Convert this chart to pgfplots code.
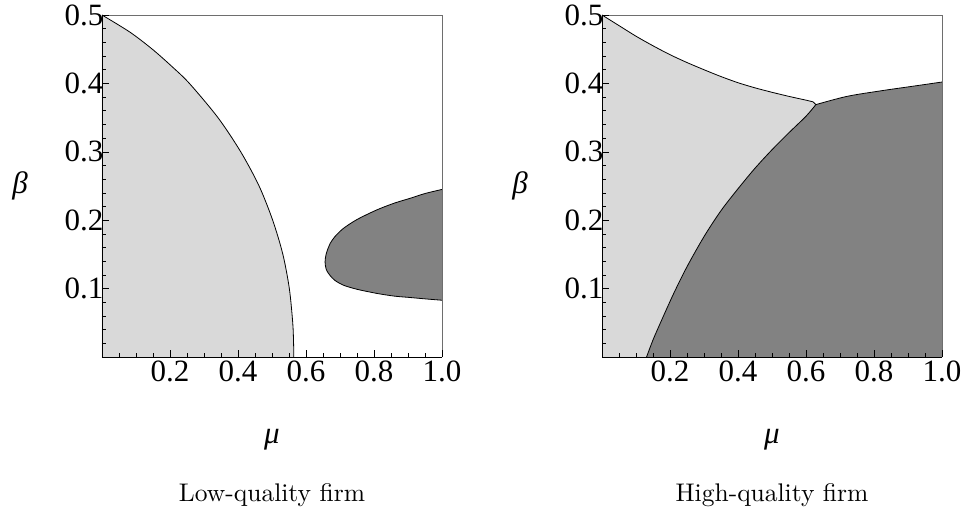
\documentclass[border=0pt]{standalone}
\usepackage{fontspec}
\usepackage{pgfplots}
\pgfplotsset{compat=1.18}
\newfontfamily\timesf{Liberation Serif}
\newfontfamily\cmten{lmroman10-regular.otf}
\definecolor{lightreg}{RGB}{217,217,217}
\definecolor{darkreg}{RGB}{130,130,130}
\definecolor{framegray}{RGB}{110,110,110}

\pgfplotsset{panel/.style={
  width=340pt, height=342pt, scale only axis,
  xmin=0, xmax=1, ymin=0, ymax=0.5,
  axis x line*=bottom, axis y line*=left,
  axis line style={black, line width=0.7pt},
  axis on top,
  xtick={0.2,0.4,0.6,0.8,1.0}, xticklabels={0.2,0.4,0.6,0.8,1.0},
  ytick={0.1,0.2,0.3,0.4,0.5}, yticklabels={0.1,0.2,0.3,0.4,0.5},
  minor xtick={0.05,0.1,0.15,0.25,0.3,0.35,0.45,0.5,0.55,0.65,0.7,0.75,0.85,0.9,0.95},
  minor ytick={0.02,0.04,0.06,0.08,0.12,0.14,0.16,0.18,0.22,0.24,0.26,0.28,0.32,0.34,0.36,0.38,0.42,0.44,0.46,0.48},
  tick align=inside,
  major tick length=7pt, minor tick length=4pt,
  tick style={black, line width=0.6pt},
  ticklabel style={font=\timesf\fontsize{31}{31}\selectfont},
  yticklabel style={xshift=5pt},
  clip=false,
}}

\pgfplotstableread{
x y
0 0.5
0.082 0.475
0.148 0.45
0.205 0.425
0.257 0.40
0.341 0.35
0.408 0.30
0.462 0.25
0.502 0.20
0.532 0.15
0.551 0.10
0.561 0.05
0.5635 0.02
0.564 0
}\lowlight

\begin{document}
\begin{tikzpicture}
% ---------------- Left panel ----------------
\begin{axis}[panel, name=L]
\addplot[fill=lightreg, draw=none, smooth, tension=0.5] table {\lowlight} \closedcycle;
\addplot[black, line width=0.8pt, smooth, tension=0.5] table {\lowlight};
\addplot[fill=darkreg, draw=none, smooth, tension=0.5] coordinates {
 (1,0.245) (0.95,0.239) (0.906,0.232) (0.86,0.225) (0.808,0.215) (0.75,0.201)
 (0.71,0.188) (0.685,0.176) (0.671,0.166) (0.665,0.159) (0.659,0.150) (0.656,0.139)
 (0.659,0.129) (0.665,0.123) (0.671,0.119) (0.685,0.112) (0.71,0.105) (0.75,0.099)
 (0.808,0.093) (0.86,0.089) (0.906,0.087) (0.95,0.085) (1,0.083)} -- cycle;
\addplot[black, line width=0.8pt, smooth, tension=0.5] coordinates {
 (1,0.245) (0.95,0.239) (0.906,0.232) (0.86,0.225) (0.808,0.215) (0.75,0.201)
 (0.71,0.188) (0.685,0.176) (0.671,0.166) (0.665,0.159) (0.659,0.150) (0.656,0.139)
 (0.659,0.129) (0.665,0.123) (0.671,0.119) (0.685,0.112) (0.71,0.105) (0.75,0.099)
 (0.808,0.093) (0.86,0.089) (0.906,0.087) (0.95,0.085) (1,0.083)};
\draw[framegray, line width=0.7pt] (rel axis cs:0,1) -- (rel axis cs:1,1) -- (rel axis cs:1,0);
\node[font=\timesf\itshape\fontsize{31}{31}\selectfont, xshift=-82pt] at (rel axis cs:0,0.5) {β};
\node[font=\timesf\itshape\fontsize{31}{31}\selectfont, anchor=base, yshift=-86pt] at (rel axis cs:0.5,0) {μ};
\node[font=\cmten\fontsize{25.5}{28}\selectfont, anchor=base, yshift=-144pt] at (rel axis cs:0.5,0) {Low-quality firm};
\end{axis}
% ---------------- Right panel ----------------
\begin{axis}[panel, at={(500pt,0pt)}]
\addplot[fill=lightreg, draw=none] coordinates {
 (0,0) (0,0.5) (0.05,0.4845) (0.1,0.469) (0.15,0.455) (0.2,0.442) (0.25,0.4305) (0.3,0.420)
 (0.35,0.410) (0.4,0.401) (0.45,0.3935) (0.5,0.387) (0.55,0.381) (0.6,0.3755) (0.621,0.373)
 (0.629,0.369) (0.60,0.352) (0.55,0.328) (0.50,0.303) (0.45,0.276) (0.40,0.246)
 (0.35,0.214) (0.30,0.176) (0.25,0.132) (0.21,0.092) (0.171,0.049) (0.15,0.025) (0.131,0)} -- cycle;
\addplot[fill=darkreg, draw=none] coordinates {
 (0.131,0) (0.15,0.025) (0.171,0.049) (0.21,0.092) (0.25,0.132) (0.30,0.176)
 (0.35,0.214) (0.40,0.246) (0.45,0.276) (0.50,0.303) (0.55,0.328) (0.60,0.352)
 (0.629,0.369) (0.72,0.381) (0.818,0.389) (0.916,0.396) (1,0.402) (1,0)} -- cycle;
\addplot[black, line width=0.8pt, smooth, tension=0.5] coordinates {
 (0,0.5) (0.05,0.4845) (0.1,0.469) (0.15,0.455) (0.2,0.442) (0.25,0.4305) (0.3,0.420)
 (0.35,0.410) (0.4,0.401) (0.45,0.3935) (0.5,0.387) (0.55,0.381) (0.6,0.3755) (0.621,0.373)};
\addplot[black, line width=0.8pt] coordinates {(0.621,0.373) (0.629,0.369)};
\addplot[black, line width=0.8pt, smooth, tension=0.5] coordinates {
 (0.131,0) (0.15,0.025) (0.171,0.049) (0.21,0.092) (0.25,0.132) (0.30,0.176)
 (0.35,0.214) (0.40,0.246) (0.45,0.276) (0.50,0.303) (0.55,0.328) (0.60,0.352)
 (0.629,0.369)};
\addplot[black, line width=0.8pt, smooth, tension=0.5] coordinates {
 (0.629,0.369) (0.72,0.381) (0.818,0.389) (0.916,0.396) (1,0.402)};
\draw[framegray, line width=0.7pt] (rel axis cs:0,1) -- (rel axis cs:1,1) -- (rel axis cs:1,0);
\node[font=\timesf\itshape\fontsize{31}{31}\selectfont, xshift=-82pt] at (rel axis cs:0,0.5) {β};
\node[font=\timesf\itshape\fontsize{31}{31}\selectfont, anchor=base, yshift=-86pt] at (rel axis cs:0.5,0) {μ};
\node[font=\cmten\fontsize{25.5}{28}\selectfont, anchor=base, yshift=-144pt] at (rel axis cs:0.5,0) {High-quality firm};
\end{axis}
\path ([shift={(-102pt,-157pt)}]L.south west) rectangle ([shift={(863pt,357pt)}]L.south west);
\end{tikzpicture}
\end{document}
